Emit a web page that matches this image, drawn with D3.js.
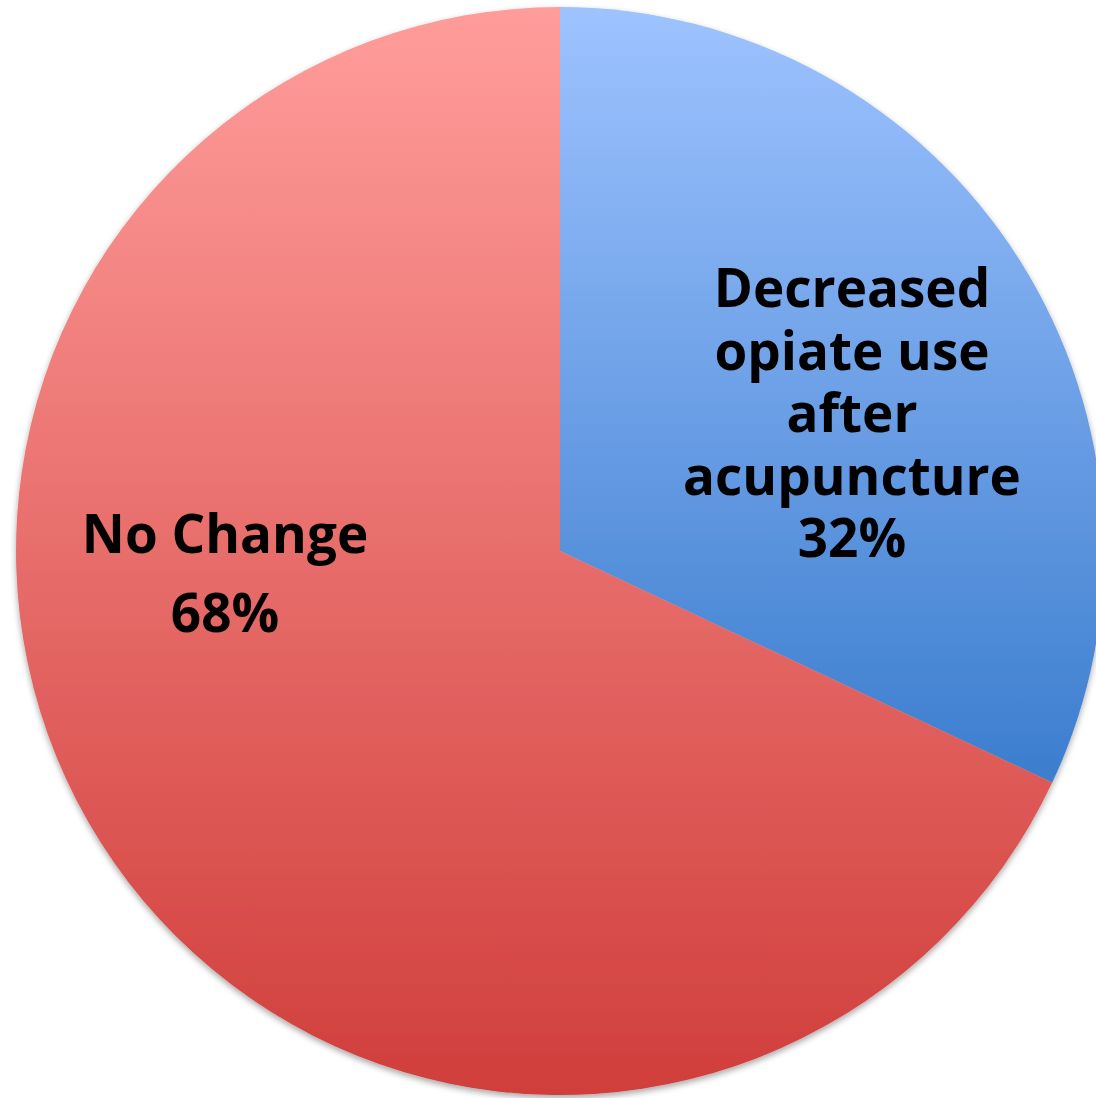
<!DOCTYPE html>
<html>
<head>
<meta charset="utf-8">
<script src="https://cdn.jsdelivr.net/npm/d3@7"></script>
<style>
  html, body { margin: 0; padding: 0; background: #fff; }
  svg { display: block; }
  text { font-family: "Open Sans", "Lato", sans-serif; font-weight: 700; fill: #000; }
</style>
</head>
<body>
<svg id="chart" width="1096" height="1098"></svg>
<script>
// Opiate use after acupuncture
const categories = ["Decreased opiate use after acupuncture", "No Change"];
const values = [32, 68];
const labelLines = [
  ["Decreased", "opiate use", "after", "acupuncture", "32%"],
  ["No Change", "68%"]
];
const gradientStops = [
  ["#9ec3ff", "#3b7dce"],
  ["#ff9d9b", "#d03e3b"]
];

const width = 1096, height = 1098;
const cx = 560, cy = 551, radius = 544;

const svg = d3.select("#chart");
const defs = svg.append("defs");

const shadow = defs.append("filter").attr("id", "pieShadow")
  .attr("x", "-10%").attr("y", "-10%").attr("width", "120%").attr("height", "120%");
shadow.append("feDropShadow")
  .attr("dx", 0).attr("dy", 3).attr("stdDeviation", 3)
  .attr("flood-color", "#000").attr("flood-opacity", 0.35);

gradientStops.forEach((stops, i) => {
  const g = defs.append("linearGradient").attr("id", "grad" + i)
    .attr("x1", 0).attr("y1", 0).attr("x2", 0).attr("y2", 1);
  g.append("stop").attr("offset", "0%").attr("stop-color", stops[0]);
  g.append("stop").attr("offset", "100%").attr("stop-color", stops[1]);
});

const pie = d3.pie().sort(null).value(d => d)
  .startAngle(0).endAngle(2 * Math.PI);
const arcs = pie(values);
const arc = d3.arc().innerRadius(0).outerRadius(radius);

const g = svg.append("g").attr("transform", `translate(${cx},${cy})`);

g.append("g").attr("filter", "url(#pieShadow)")
  .selectAll("path").data(arcs).join("path")
  .attr("d", arc)
  .attr("fill", (d, i) => `url(#grad${i})`)
  .attr("aria-label", (d, i) => categories[i]);

// label anchor points (relative to centre) and line spacing
const labelPos = [
  { x: 292, y: -244, step: 62.5 },
  { x: -335, y: 2, step: 79 }
];
const fontSize = 53;

labelLines.forEach((lines, i) => {
  const p = labelPos[i];
  const t = g.append("text")
    .attr("text-anchor", "middle")
    .attr("font-size", fontSize);
  lines.forEach((ln, j) => {
    t.append("tspan").attr("x", p.x).attr("y", p.y + j * p.step).text(ln);
  });
});
</script>
</body>
</html>
